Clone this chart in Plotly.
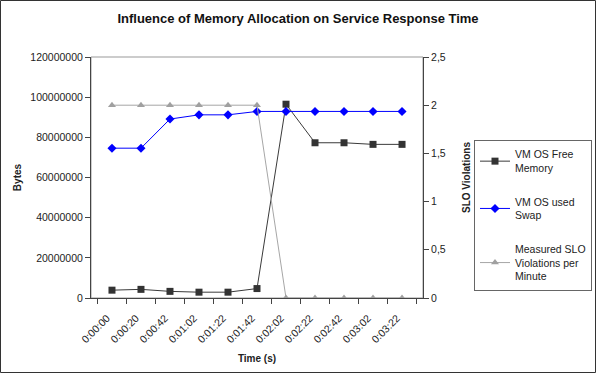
import plotly.graph_objects as go

times = ["0:00:00", "0:00:20", "0:00:42", "0:01:02", "0:01:22", "0:01:42",
         "0:02:02", "0:02:22", "0:02:42", "0:03:02", "0:03:22"]
free_memory = [3.9e6, 4.3e6, 3.3e6, 2.9e6, 2.9e6, 4.7e6, 96.5e6, 77.3e6, 77.3e6, 76.5e6, 76.5e6]
used_swap = [74.6e6, 74.6e6, 89.1e6, 91.2e6, 91.2e6, 92.9e6, 92.9e6, 92.9e6, 92.9e6, 92.9e6, 92.9e6]
slo_violations = [2, 2, 2, 2, 2, 2, 0, 0, 0, 0, 0]

left_ticks = [0, 20000000, 40000000, 60000000, 80000000, 100000000, 120000000]
right_ticks = [0, 0.5, 1, 1.5, 2, 2.5]

FONT = "Liberation Sans, Arial, sans-serif"

fig = go.Figure()
fig.add_trace(go.Scatter(
    x=times, y=free_memory, name="VM OS Free<br>Memory", mode="lines+markers",
    line=dict(color="#3a3a3a", width=1),
    marker=dict(symbol="square", size=7, color="#333333"),
    legendgroup="a"))
fig.add_trace(go.Scatter(
    x=times, y=used_swap, name="VM OS used<br>Swap", mode="lines+markers",
    line=dict(color="#0000ff", width=1),
    marker=dict(symbol="diamond", size=7, color="#0000ff"),
    legendgroup="b"))
fig.add_trace(go.Scatter(
    x=times, y=slo_violations, name="Measured SLO<br>Violations per<br>Minute", mode="lines+markers",
    line=dict(color="#a6a6a6", width=1),
    marker=dict(symbol="triangle-up", size=7, color="#a0a0a0"),
    yaxis="y2", legendgroup="c"))

W, H = 596, 373
L, R, T, B = 91, 173, 57, 75
pw, ph = W - L - R, H - T - B

fig.update_layout(
    width=W, height=H,
    margin=dict(l=L, r=R, t=T, b=B, autoexpand=False),
    paper_bgcolor="white", plot_bgcolor="white",
    separators=",.",
    font=dict(family=FONT, size=10, color="#222222"),
    title=dict(text="<b>Influence of Memory Allocation on Service Response Time</b>",
               x=0.5, xref="container", xanchor="center", y=1 - 18 / H, yanchor="middle",
               font=dict(size=13, color="#111111")),
    xaxis=dict(
        type="category", tickson="boundaries", ticks="outside", ticklen=5,
        tickcolor="#444444", showline=True, linecolor="#444444", linewidth=1,
        showgrid=False, zeroline=False, tickangle=-45,
        ticklabelstandoff=9, ticklabelshift=-5,
        tickfont=dict(size=10.5),
        title=dict(text="<b>Time (s)</b>", font=dict(size=10), standoff=10)),
    yaxis=dict(
        range=[0, 120000000], tickvals=left_ticks, tickformat="d",
        ticks="outside", ticklen=5, tickcolor="#444444",
        showline=True, linecolor="#444444", linewidth=1,
        showgrid=False, zeroline=False, tickfont=dict(size=10.5),
        title=dict(text="<b>Bytes</b>", font=dict(size=10), standoff=6)),
    yaxis2=dict(
        range=[0, 2.5], tickvals=right_ticks, overlaying="y", side="right",
        ticks="outside", ticklen=5, tickcolor="#444444",
        showline=True, linecolor="#444444", linewidth=1,
        showgrid=False, zeroline=False, tickfont=dict(size=10.5),
        title=dict(text="<b>SLO Violations</b>", font=dict(size=10), standoff=18)),
    legend=dict(
        xref="container", yref="container",
        x=592 / W, y=1 - 140 / H, xanchor="right", yanchor="top",
        bordercolor="#666666", borderwidth=1, bgcolor="white",
        font=dict(size=10.5), tracegroupgap=17, itemwidth=30),
    showlegend=True,
    shapes=[
        dict(type="rect", xref="paper", yref="paper", x0=0, x1=1, y0=0, y1=1,
             line=dict(color="#999999", width=1), layer="below"),
        dict(type="rect", xref="paper", yref="paper",
             x0=(0.5 - L) / pw, x1=(W - 0.5 - L) / pw,
             y0=(H - B - (H - 0.5)) / ph, y1=(H - B - 0.5) / ph,
             line=dict(color="#333333", width=1), layer="below"),
    ],
)

fig.write_html("out.html")
